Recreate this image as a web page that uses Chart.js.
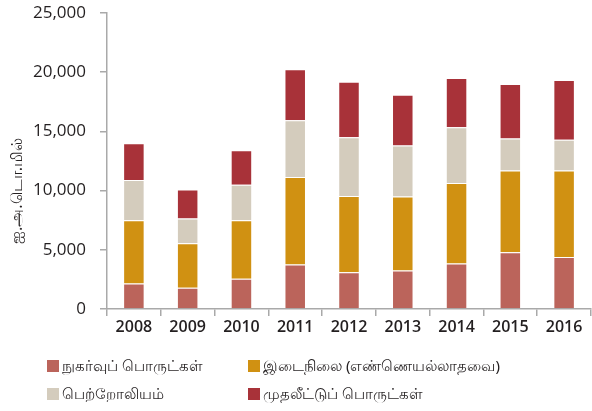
<!DOCTYPE html>
<html><head><meta charset="utf-8">
<script src="https://cdn.jsdelivr.net/npm/chart.js@4/dist/chart.umd.min.js"></script>
<style>
html,body{margin:0;padding:0;background:#fff;}
#wrap{position:relative;width:592px;height:411px;}
canvas{position:absolute;left:0;top:0;}
.leg{position:absolute;font-family:"Noto Sans","Lato",sans-serif;font-size:15px;color:#231f20;white-space:nowrap;line-height:18px;}
.leg i{display:inline-block;width:12px;height:12px;vertical-align:-1px;margin-right:3px;}
</style></head>
<body><div id="wrap"><canvas id="c" width="592" height="411"></canvas>
<div id="legend"></div></div>
<script>
const categories = ["2008","2009","2010","2011","2012","2013","2014","2015","2016"];
const consumer = [2150,1800,2550,3750,3100,3250,3850,4800,4400];
const intermediate = [5350,3750,4950,7400,6450,6250,6800,6900,7300];
const petroleum = [3400,2100,3000,4800,4950,4300,4700,2700,2600];
const investment = [3100,2450,2900,4300,4700,4300,4150,4600,5050];
const seriesNames = ["நுகர்வுப் பொருட்கள்","இடைநிலை (எண்ணெயல்லாதவை)","பெற்றோலியம்","முதலீட்டுப் பொருட்கள்"];
const seriesColors = ["#bb645b","#d09112","#d4ccbd","#a83239"];
const yTicks = [0,5000,10000,15000,20000,25000];
const yTitle = "ஐ.அ.டொ.மில்";

const dataArr=[consumer,intermediate,petroleum,investment];
const datasets = dataArr.map((d,i)=>({label:seriesNames[i],data:d,backgroundColor:seriesColors[i],borderColor:"rgba(255,255,255,0.5)",borderWidth:{top:1,bottom:0,left:1,right:1},borderSkipped:false}));

const yTitlePlugin={id:'ytitle',afterDraw(chart){const c=chart.ctx;c.save();c.translate(17,191);c.rotate(-Math.PI/2);c.font='16px "Noto Sans"';c.fillStyle='#231f20';c.textAlign='center';c.textBaseline='middle';c.fillText(yTitle,0,0);c.restore();}};

new Chart(document.getElementById('c'),{
 type:'bar',
 data:{labels:categories,datasets},
 plugins:[yTitlePlugin],
 options:{responsive:false,animation:false,
  layout:{padding:{top:13,right:1,bottom:62,left:0}},
  plugins:{legend:{display:false},tooltip:{enabled:false}},
  datasets:{bar:{categoryPercentage:1,barPercentage:0.4}},
  scales:{
   x:{stacked:true,
      grid:{drawOnChartArea:false,offset:true,color:"#a9a9a9",tickLength:7,lineWidth:1.5},
      border:{color:"#a9a9a9",width:1.5},
      ticks:{color:"#231f20",font:{family:"Open Sans",size:16,weight:"600"},padding:2},
      afterFit:s=>{s.height=40;s.paddingLeft=0;s.paddingRight=0;}},
   y:{stacked:true,min:0,max:25000,
      afterBuildTicks:s=>{s.ticks=yTicks.map(v=>({value:v}));},
      grid:{drawOnChartArea:false,color:"#a9a9a9",tickLength:7,lineWidth:1.5},
      border:{color:"#a9a9a9",width:1.5},
      ticks:{color:"#231f20",font:{family:"Open Sans",size:17},padding:14,callback:v=>v.toLocaleString('en-US')},
      title:{display:false},
      afterFit:s=>{s.width=107;s.paddingTop=0;s.paddingBottom=0;}}
  }}
});

const lg=document.getElementById('legend');
const pos=[[47,356],[248,356],[47,384],[248,384]];
seriesNames.forEach((n,i)=>{const d=document.createElement('div');d.className='leg';d.style.left=pos[i][0]+'px';d.style.top=pos[i][1]+'px';d.innerHTML='<i style="background:'+seriesColors[i]+'"></i>'+n;lg.appendChild(d);});
</script></body></html>
